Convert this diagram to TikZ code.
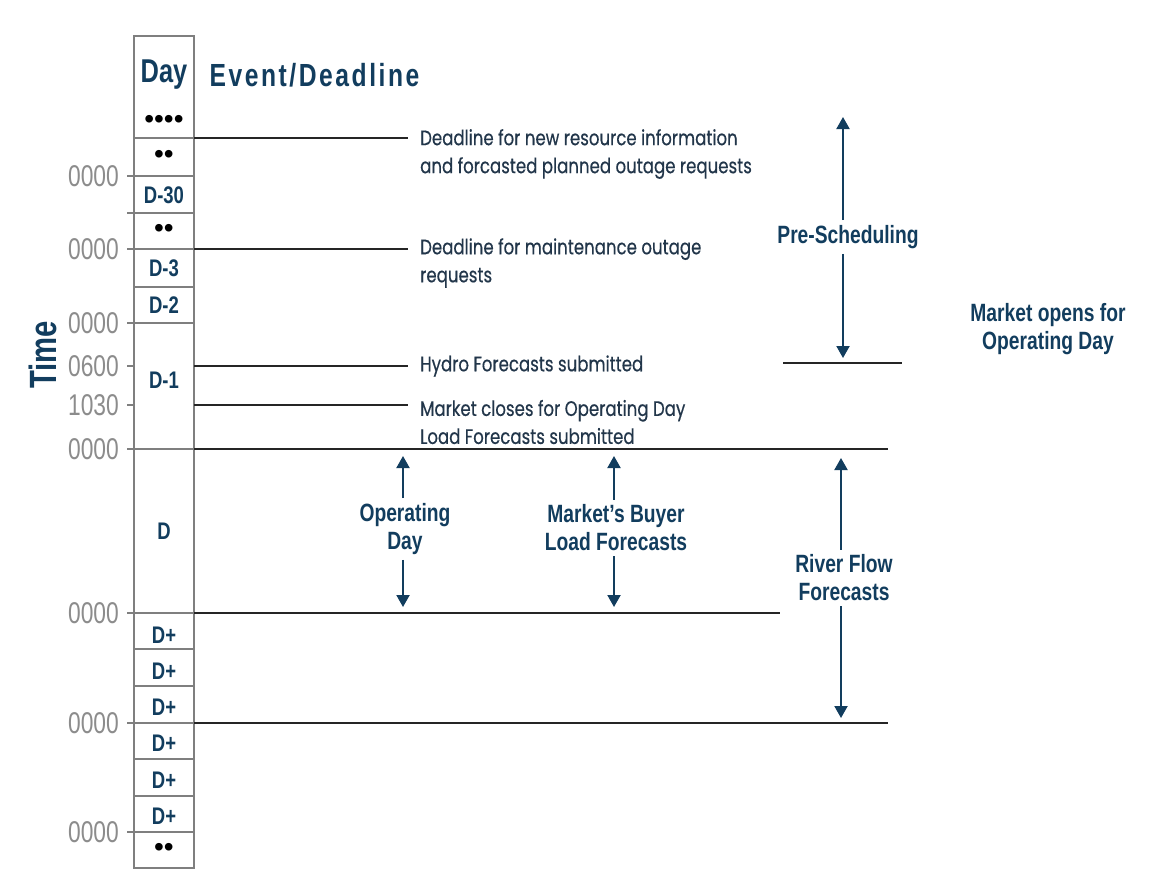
\documentclass[tikz,border=0pt]{standalone}
\usepackage{fontspec}
\usetikzlibrary{arrows.meta}
\setmainfont{Liberation Sans}
\newfontfamily\condfont[FakeStretch=0.77]{Liberation Sans}
\newfontfamily\headfont[FakeStretch=0.77, LetterSpace=8]{Liberation Sans}
\newfontfamily\timefont[FakeStretch=0.76]{Liberation Sans}
\newfontfamily\eventfont[FakeStretch=0.79, FakeBold=0.4]{Poppins}
\definecolor{navy}{HTML}{123D5E}
\definecolor{evtext}{HTML}{22364A}
\definecolor{colgray}{HTML}{7F7F7F}
\definecolor{timegray}{HTML}{8C8C8C}
\definecolor{linedark}{HTML}{252525}
\tikzset{
  head/.style={text=navy, font=\headfont\bfseries\fontsize{32}{32}\selectfont},
  dayhead/.style={text=navy, font=\condfont\bfseries\fontsize{33}{33}\selectfont},
  cell/.style={text=navy, font=\condfont\bfseries\fontsize{24}{24}\selectfont},
  dots/.style={text=black, font=\fontsize{28}{28}\selectfont},
  timelbl/.style={anchor=east, inner sep=2pt, text=timegray,
    font=\timefont\fontsize{30}{30}\selectfont},
  event/.style={anchor=west, inner xsep=12pt, inner ysep=0pt, align=left,
    text=evtext, font=\eventfont\fontsize{21}{28}\selectfont},
  period/.style={align=center, inner sep=5pt, text=navy,
    font=\condfont\bfseries\fontsize{25}{28}\selectfont},
  colline/.style={draw=colgray, line width=2pt},
  evline/.style={draw=linedark, line width=2.2pt},
  spanarrow/.style={draw=navy, line width=2pt, -{Triangle[width=13pt,length=12pt]}}
}
\begin{document}
\begin{tikzpicture}[x=1pt,y=-1pt]
  \fill[white] (0,0) rectangle (1170,895);
  \useasboundingbox (0,0) rectangle (1170,895);

  % day column
  \draw[colline] (134,36) rectangle (194,868);
  \foreach \y in {138,176,213,249,287,323,449,613,649,686,723,759,796,832}
    \draw[colline] (134,\y) -- (194,\y);
  \node[dayhead] (day) at (164,75) {Day};
  \node[head, anchor=west] (evhead) at (206,75) {Event/Deadline};
  \node[dots] (dots0) at (164,122) {••••};
  \node[dots] (dots1) at (164,157) {••};
  \node[dots] (dots2) at (164,231) {••};
  \node[dots] (dots3) at (164,850) {••};
  \foreach \y/\lbl/\name in {195/D-30/dm30, 268/D-3/dm3, 305/D-2/dm2,
      380/D-1/dm1, 531/D/d0, 635/D+/dp1, 671/D+/dp2, 707/D+/dp3,
      743/D+/dp4, 780/D+/dp5, 816/D+/dp6}
    \node[cell] (\name) at (164,\y) {\lbl};

  % time axis
  \node[period, rotate=90, font=\condfont\bfseries\fontsize{38}{38}\selectfont] (time) at (43,355) {Time};
  \draw[colline] (127,213) -- (134,213);
  \foreach \y/\t/\name in {176/0000/t1, 249/0000/t2, 323/0000/t3, 366/0600/t4,
      405/1030/t5, 449/0000/t6, 613/0000/t7, 723/0000/t8, 832/0000/t9} {
    \draw[colline] (127,\y) -- (134,\y);
    \node[timelbl] (\name) at (121,\y) {\t};
  }

  % events
  \coordinate (e1) at (194,138);
  \coordinate (e2) at (194,249);
  \coordinate (e3) at (194,366);
  \coordinate (e4) at (194,405);
  \node[event] (ev1) at (408,154) {Deadline for new resource information\\and forcasted planned outage requests};
  \node[event] (ev2) at (408,263) {Deadline for maintenance outage\\requests};
  \node[event] (ev3) at (408,366) {Hydro Forecasts submitted};
  \node[event] (ev4) at (408,422) {Market closes for Operating Day\\Load Forecasts submitted};
  \draw[evline] (e1) -- (e1 -| ev1.west);
  \draw[evline] (e2) -- (e2 -| ev2.west);
  \draw[evline] (e3) -- (e3 -| ev3.west);
  \draw[evline] (e4) -- (e4 -| ev4.west);

  % day boundaries
  \coordinate (b1a) at (194,449);
  \coordinate (b1b) at (888,449);
  \coordinate (b2a) at (194,613);
  \coordinate (b2b) at (780,613);
  \coordinate (b3a) at (194,723);
  \coordinate (b3b) at (888,723);
  \coordinate (mo1) at (783,363);
  \coordinate (mo2) at (902,363);
  \draw[evline] (b1a) -- (b1b);
  \draw[evline] (b2a) -- (b2b);
  \draw[evline] (b3a) -- (b3b);
  \draw[evline] (mo1) -- (mo2);

  % periods
  \node[period] (presched) at (848,237) {Pre-Scheduling};
  \node[period] (mktopen) at (1048,329) {Market opens for\\Operating Day};
  \node[period] (opday) at (405,529) {Operating\\Day};
  \node[period] (buyer) at (616,528) {Market’s Buyer\\Load Forecasts};
  \node[period] (river) at (844,578) {River Flow\\Forecasts};
  \coordinate (ps1) at (843,117);
  \coordinate (ps2) at (843,358);
  \coordinate (od1) at (403,456);
  \coordinate (od2) at (403,607);
  \coordinate (lf1) at (614,456);
  \coordinate (lf2) at (614,607);
  \coordinate (rf1) at (841,458);
  \coordinate (rf2) at (841,718);
  \draw[spanarrow] (presched.north -| ps1) -- (ps1);
  \draw[spanarrow] (presched.south -| ps2) -- (ps2);
  \draw[spanarrow] (opday.north -| od1) -- (od1);
  \draw[spanarrow] (opday.south -| od2) -- (od2);
  \draw[spanarrow] (buyer.north -| lf1) -- (lf1);
  \draw[spanarrow] (buyer.south -| lf2) -- (lf2);
  \draw[spanarrow] (river.north -| rf1) -- (rf1);
  \draw[spanarrow] (river.south -| rf2) -- (rf2);
\end{tikzpicture}
\end{document}
